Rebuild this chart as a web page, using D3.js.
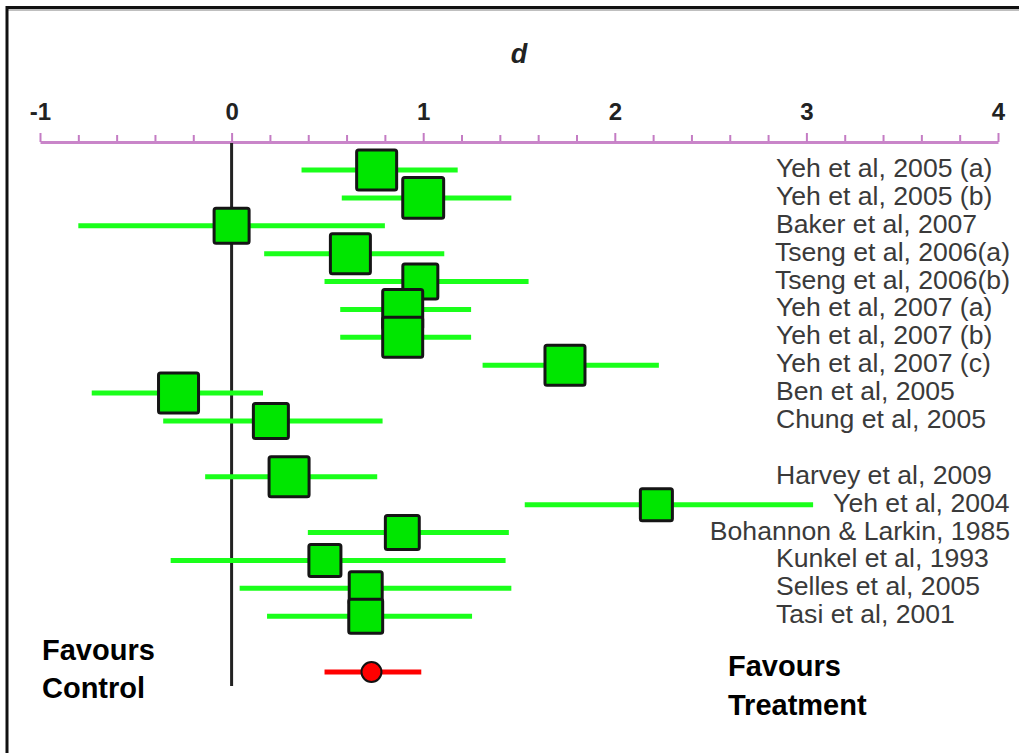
<!DOCTYPE html>
<html>
<head>
<meta charset="utf-8">
<script src="https://cdn.jsdelivr.net/npm/d3@7"></script>
<style>
  html, body { margin: 0; padding: 0; background: #fff; }
  svg { display: block; font-family: "Liberation Sans", Arial, Helvetica, sans-serif; }
</style>
</head>
<body>
<svg id="chart" width="1019" height="753"></svg>
<script>
// ---- data ----
const studies = [
  "Yeh et al, 2005 (a)", "Yeh et al, 2005 (b)", "Baker et al, 2007",
  "Tseng et al, 2006(a)", "Tseng et al, 2006(b)", "Yeh et al, 2007 (a)",
  "Yeh et al, 2007 (b)", "Yeh et al, 2007 (c)", "Ben et al, 2005",
  "Chung et al, 2005", "Harvey et al, 2009", "Yeh et al, 2004",
  "Bohannon & Larkin, 1985", "Kunkel et al, 1993", "Selles et al, 2005",
  "Tasi et al, 2001"
];
const subgroup = [1,1,1,1,1,1,1,1,1,1,2,2,2,2,2,2];
const effect = [0.757, 1.00, 0.00, 0.62, 0.985, 0.893, 0.893, 1.74, -0.277, 0.205,
                0.30, 2.217, 0.891, 0.487, 0.70, 0.70];
const lower  = [0.365, 0.575, -0.80, 0.17, 0.485, 0.567, 0.567, 1.31, -0.73, -0.357,
                -0.138, 1.53, 0.398, -0.318, 0.042, 0.185];
const upper  = [1.18, 1.46, 0.80, 1.11, 1.55, 1.25, 1.25, 2.23, 0.164, 0.788,
                0.76, 3.035, 1.447, 1.43, 1.46, 1.255];
const weight = [6.4, 6.7, 4.9, 6.4, 4.9, 6.4, 6.4, 6.4, 6.4, 4.9,
                6.4, 4.1, 4.6, 4.1, 4.35, 4.6];
const summaryEffect = 0.73;
const summaryLower = 0.485;
const summaryUpper = 0.99;
const majorTicks = [-1, 0, 1, 2, 3, 4];
const axisTitle = "d";
const leftNote = ["Favours", "Control"];
const rightNote = ["Favours", "Treatment"];

// ---- layout ----
const svg = d3.select("#chart");
const x = d3.scaleLinear().domain([-1, 4]).range([40, 998]);
const rowIndex = studies.map((s, i) => i + (subgroup[i] - 1));
const summaryRow = d3.max(rowIndex) + 2;
const y = d3.scaleLinear().domain([0, summaryRow]).range([170, 672]);
const side = d3.scaleSqrt().domain([0, 6.4]).range([0, 40]);
const axisY = 142;

// frame (top and left edges)
svg.append("line").attr("x1", 6).attr("x2", 1019).attr("y1", 10).attr("y2", 10)
  .attr("stroke", "#aaa").attr("stroke-width", 1.5);
svg.append("line").attr("x1", 6).attr("x2", 1019).attr("y1", 7.5).attr("y2", 7.5)
  .attr("stroke", "#111").attr("stroke-width", 3);
svg.append("line").attr("x1", 7).attr("x2", 7).attr("y1", 6).attr("y2", 753)
  .attr("stroke", "#111").attr("stroke-width", 3);

// axis title
svg.append("text").attr("x", x(1.5)).attr("y", 63).attr("text-anchor", "middle")
  .attr("font-size", 27).attr("font-weight", "bold").attr("font-style", "italic")
  .attr("fill", "#222").text(axisTitle);

// minor ticks
const minorAxis = d3.axisTop(x)
  .tickValues(d3.range(-1, 4.0001, 0.2).filter(v => Math.abs(v - Math.round(v)) > 1e-6))
  .tickSize(7).tickSizeOuter(0).tickFormat("");
const gMinor = svg.append("g").attr("transform", `translate(0,${axisY})`).call(minorAxis);
gMinor.select(".domain").remove();
gMinor.selectAll(".tick line").attr("stroke", "#c47cc4").attr("stroke-width", 2);

// major ticks + labels
const majorAxis = d3.axisTop(x).tickValues(majorTicks).tickSize(9).tickSizeOuter(0)
  .tickPadding(13).tickFormat(d3.format("d"));
const gMajor = svg.append("g").attr("transform", `translate(0,${axisY})`).call(majorAxis);
gMajor.select(".domain").attr("stroke", "#c985c9").attr("stroke-width", 3);
gMajor.selectAll(".tick line").attr("stroke", "#c47cc4").attr("stroke-width", 2);
gMajor.selectAll(".tick text").attr("font-size", 24).attr("font-weight", "bold")
  .attr("fill", "#222").attr("font-family", "'Liberation Sans', Arial, sans-serif")
  .text(d => d < 0 ? "-" + Math.abs(d) : d);

// zero line
svg.append("line").attr("x1", x(0)).attr("x2", x(0)).attr("y1", axisY + 1).attr("y2", 686)
  .attr("stroke", "#222").attr("stroke-width", 3);

const rows = studies.map((s, i) => ({
  name: s, e: effect[i], lo: lower[i], hi: upper[i], w: weight[i], r: rowIndex[i]
}));

// confidence lines
svg.append("g").selectAll("line").data(rows).join("line")
  .attr("x1", d => x(d.lo)).attr("x2", d => x(d.hi))
  .attr("y1", d => y(d.r)).attr("y2", d => y(d.r))
  .attr("stroke", "#1aff1a").attr("stroke-width", 5);

// squares
svg.append("g").selectAll("rect").data(rows).join("rect")
  .attr("x", d => x(d.e) - side(d.w) / 2).attr("y", d => y(d.r) - side(d.w) / 2)
  .attr("width", d => side(d.w)).attr("height", d => side(d.w))
  .attr("rx", 2).attr("fill", "#00e600").attr("stroke", "#151515").attr("stroke-width", 3);

// study labels
const labels = svg.append("g").selectAll("text").data(rows).join("text")
  .attr("y", d => y(d.r) + 7)
  .attr("font-size", 26.6).attr("fill", "#3a3a3a").text(d => d.name);
labels.each(function (d) {
  const w = this.getComputedTextLength();
  let lx = Math.max(776, x(d.hi) + 20);
  if (lx + w > 1010) lx = 1010 - w;
  d3.select(this).attr("x", lx);
});

// summary
const sy = y(summaryRow);
svg.append("line").attr("x1", x(summaryLower)).attr("x2", x(summaryUpper))
  .attr("y1", sy).attr("y2", sy).attr("stroke", "#ff0000").attr("stroke-width", 5);
svg.append("circle").attr("cx", x(summaryEffect)).attr("cy", sy).attr("r", 10)
  .attr("fill", "#ff0000").attr("stroke", "#111").attr("stroke-width", 2);

// notes
svg.append("g").selectAll("text").data(leftNote).join("text")
  .attr("x", 42).attr("y", (d, i) => 660 + i * 38)
  .attr("font-size", 29).attr("font-weight", "bold").attr("fill", "#000").text(d => d);
svg.append("g").selectAll("text").data(rightNote).join("text")
  .attr("x", 728).attr("y", (d, i) => 676 + i * 39)
  .attr("font-size", 29).attr("font-weight", "bold").attr("fill", "#000").text(d => d);
</script>
</body>
</html>
